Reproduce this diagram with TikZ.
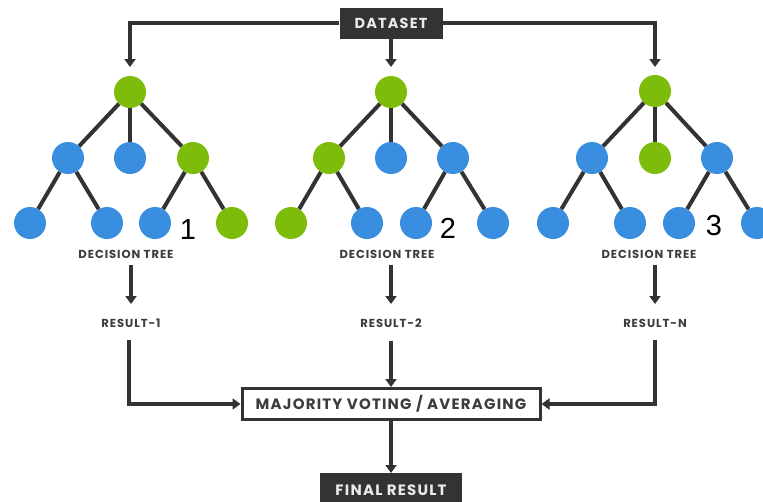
\documentclass[tikz,border=0pt]{standalone}
\usepackage{fontspec}
\usetikzlibrary{arrows.meta}
\newfontfamily\gfont[LetterSpace=8]{Poppins}
\newfontfamily\numfont{Liberation Sans}
\definecolor{tgreen}{HTML}{7DBC0A}
\definecolor{tblue}{HTML}{3A8EE0}
\definecolor{tdark}{HTML}{333333}
\definecolor{ttext}{HTML}{3C3C3C}
\begin{document}
\begin{tikzpicture}[x=1pt,y=-1pt,
  gn/.style={circle,fill=tgreen,minimum size=32pt,inner sep=0pt},
  bn/.style={circle,fill=tblue,minimum size=32pt,inner sep=0pt},
  edge/.style={draw=tdark,line width=4pt},
  conn/.style={draw=tdark,line width=3.2pt},
  arr/.style={conn,-{Triangle[width=11pt,length=8pt]}},
  small/.style={text=ttext,font=\gfont\bfseries\fontsize{11.6}{13}\selectfont,inner sep=0pt},
  darkbox/.style={fill=tdark,text=white!92!black,inner sep=0pt},
  numlab/.style={font=\numfont\fontsize{29}{30}\selectfont,inner sep=0pt}]
\useasboundingbox (0,0) rectangle (763,501);

% Dataset
\node[darkbox,minimum width=103pt,minimum height=31pt,font=\gfont\bfseries\fontsize{14.5}{16}\selectfont] (ds) at (391,23) {DATASET};

% Tree 1
\node[gn] (a0) at (130,92) {};
\node[bn] (a1) at (68,158) {};
\node[bn] (a2) at (130,158) {};
\node[gn] (a3) at (193,158) {};
\node[bn] (a4) at (30,223) {};
\node[bn] (a5) at (107,223) {};
\node[bn] (a6) at (155,223) {};
\node[gn] (a7) at (232,223) {};
% Tree 2
\node[gn] (b0) at (391,92) {};
\node[gn] (b1) at (329,158) {};
\node[bn] (b2) at (391,158) {};
\node[bn] (b3) at (453,158) {};
\node[gn] (b4) at (291,223) {};
\node[bn] (b5) at (367,223) {};
\node[bn] (b6) at (416,223) {};
\node[bn] (b7) at (493,223) {};
% Tree 3
\node[gn] (c0) at (655,91) {};
\node[bn] (c1) at (592,158) {};
\node[gn] (c2) at (655,158) {};
\node[bn] (c3) at (717,158) {};
\node[bn] (c4) at (553,223) {};
\node[bn] (c5) at (630,223) {};
\node[bn] (c6) at (679,223) {};
\node[bn] (c7) at (757,223) {};

\foreach \t in {a,b,c}{
  \draw[edge] (\t0) -- (\t1);
  \draw[edge] (\t0) -- (\t2);
  \draw[edge] (\t0) -- (\t3);
  \draw[edge] (\t1) -- (\t4);
  \draw[edge] (\t1) -- (\t5);
  \draw[edge] (\t3) -- (\t6);
  \draw[edge] (\t3) -- (\t7);
}

% numbers
\node[numlab] (n1) at (188,230) {1};
\node[numlab] (n2) at (448,228) {2};
\node[numlab] (n3) at (714,226) {3};

% labels
\node[small] (d1) at (126,254) {DECISION TREE};
\node[small] (d2) at (387,254) {DECISION TREE};
\node[small] (d3) at (649,254) {DECISION TREE};
\node[small] (r1) at (131,323) {RESULT-1};
\node[small] (r2) at (391,323) {RESULT-2};
\node[small] (r3) at (655,323) {RESULT-N};

% dataset connectors
\coordinate (tl) at (130,67);
\coordinate (tr) at (655,67);
\coordinate (tm) at (391,67);
\draw[arr] (ds.west) -| (tl);
\draw[arr] (ds.east) -| (tr);
\draw[arr] (ds.south) -- (tm);

% decision tree -> result
\draw[arr] (131,265) -- (131,304);
\draw[arr] (391,265) -- (391,304);
\draw[arr] (655,265) -- (655,304);

% voting box
\node[draw=tdark,line width=3pt,fill=white,minimum width=298pt,minimum height=31pt,text=ttext,
  font=\gfont\bfseries\fontsize{15}{17}\selectfont,inner sep=0pt] (mv) at (391,404) {MAJORITY VOTING / AVERAGING};

\coordinate (l1) at (129,340);
\coordinate (rr1) at (655,340);
\draw[arr] (l1) |- (mv.west);
\draw[arr] (rr1) |- (mv.east);
\draw[arr] (391,341) -- (mv.north);

% final result
\node[darkbox,minimum width=142pt,minimum height=34pt,anchor=north,font=\gfont\bfseries\fontsize{15}{17}\selectfont] (fr) at (391,473) {FINAL RESULT};
\draw[arr] (mv.south) -- (fr.north);
\end{tikzpicture}
\end{document}
